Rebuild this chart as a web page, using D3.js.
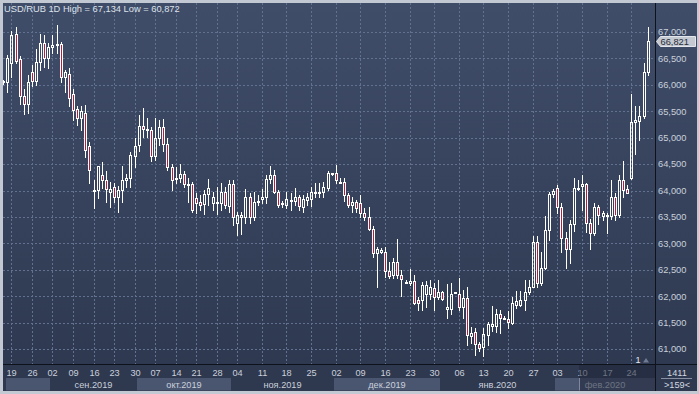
<!DOCTYPE html>
<html>
<head>
<meta charset="utf-8">
<script src="https://cdn.jsdelivr.net/npm/d3@7"></script>
<style>
  html, body { margin: 0; padding: 0; background: #c3c9d3; }
  svg { display: block; font-family: "Liberation Sans", Arial, sans-serif; }
</style>
</head>
<body>
<svg id="chart" width="699" height="394"></svg>
<script>
//	OHLC values, one per bar (159 bars visible)
var open = [65.95,66.05,66.05,66.42,66.96,66.48,65.78,65.63,66.24,66.07,66.44,66.80,66.50,66.71,66.75,66.77,66.15,66.20,65.83,65.55,
  65.38,65.46,64.84,64.01,64.01,64.29,64.20,63.98,64.06,63.87,64.01,64.19,64.23,64.65,64.86,65.22,65.16,65.15,64.65,64.99,
  65.21,64.88,64.45,64.22,64.24,64.32,64.12,64.12,63.85,63.79,63.74,63.93,63.77,63.78,63.76,63.97,63.71,64.12,63.38,63.49,
  63.49,63.87,63.49,63.80,63.83,63.87,64.21,64.29,63.98,63.74,63.73,63.82,63.81,63.87,63.69,63.82,63.83,63.98,63.97,63.97,
  64.04,64.32,64.34,64.17,64.17,63.91,63.73,63.79,63.76,63.58,63.49,63.27,62.82,62.84,62.84,62.48,62.40,62.64,62.41,62.27,
  62.24,62.29,61.93,61.93,62.05,62.05,62.15,61.99,62.07,61.75,61.75,62.07,62.04,61.79,61.96,61.25,61.32,61.09,61.03,61.26,
  61.44,61.44,61.66,61.59,61.57,61.50,61.83,61.83,61.93,62.07,62.18,63.03,62.24,62.53,63.26,63.93,64.04,63.69,63.11,62.89,
  63.37,64.04,64.09,64.12,63.38,63.19,63.68,63.52,63.54,63.52,63.87,63.54,64.19,64.02,64.23,65.30,65.32,65.41,66.25];
var high = [66.10,66.09,66.56,67.01,67.09,66.55,65.93,66.19,66.38,66.67,66.96,66.94,66.79,66.94,67.134,66.82,66.28,66.31,65.93,65.60,
  65.59,65.62,64.92,64.20,64.47,64.53,64.36,64.17,64.14,64.09,64.47,64.32,64.73,64.99,65.43,65.56,65.37,65.21,65.37,65.33,
  65.35,64.99,64.51,64.45,64.50,64.36,64.23,64.17,63.95,63.91,64.01,64.21,63.98,64.06,64.14,64.06,64.19,64.20,63.60,63.60,
  64.02,63.95,63.98,63.91,64.02,64.29,64.46,64.39,64.01,63.81,63.98,63.95,64.04,63.91,63.91,63.95,64.06,64.14,64.14,64.17,
  64.36,64.34,64.48,64.23,64.23,63.95,63.87,63.82,63.91,63.66,63.69,63.32,62.94,62.92,62.94,62.64,62.72,63.08,62.50,62.31,
  62.51,62.40,61.99,62.27,62.29,62.31,62.24,62.31,62.10,62.23,62.24,62.08,62.34,62.12,62.18,61.41,61.39,61.14,61.39,61.52,
  61.81,61.75,61.74,61.62,61.71,61.99,62.09,62.10,62.31,62.31,63.13,63.13,62.84,63.52,63.98,64.02,64.10,63.77,63.22,63.44,
  64.23,64.19,64.29,64.14,63.47,63.77,63.73,63.62,63.58,64.19,63.96,64.29,64.55,64.10,65.83,65.59,65.60,66.42,67.09];
var low = [65.85,66.02,65.87,66.15,66.41,65.64,65.44,65.47,65.97,66.00,66.29,66.34,66.31,66.60,66.60,66.06,65.87,65.59,65.33,65.24,
  65.15,64.64,64.15,63.66,63.85,64.04,63.79,63.69,63.79,63.60,63.79,64.07,64.07,64.45,64.74,65.02,65.02,64.55,64.58,64.86,
  64.74,64.38,64.01,64.14,64.17,64.06,63.79,63.60,63.57,63.63,63.56,63.73,63.63,63.56,63.63,63.66,63.60,63.35,63.16,63.17,
  63.38,63.38,63.45,63.73,63.76,63.76,64.14,63.95,63.69,63.68,63.66,63.63,63.73,63.63,63.60,63.73,63.71,63.88,63.88,63.88,
  64.01,64.29,64.14,64.14,63.81,63.69,63.60,63.60,63.50,63.44,63.25,62.75,62.17,62.81,62.36,62.34,62.34,62.34,62.00,62.26,
  62.21,61.85,61.74,61.74,61.80,61.95,61.74,61.94,61.93,61.58,61.66,62.06,61.73,61.58,61.08,61.11,60.89,60.97,60.872,61.08,
  61.35,61.33,61.30,61.56,61.39,61.47,61.77,61.81,61.74,62.05,62.17,62.18,62.21,62.52,63.06,63.87,63.58,62.84,62.53,62.62,
  63.24,64.01,63.63,63.22,62.89,63.16,63.37,63.45,63.19,63.47,63.44,63.50,63.88,63.95,64.21,64.70,64.96,65.38,66.19];
var close = [66.05,66.07,66.50,66.94,66.46,65.78,65.63,66.05,66.07,66.44,66.80,66.50,66.71,66.75,66.77,66.15,66.24,65.76,65.52,65.38,
  65.51,64.77,64.38,64.00,64.46,64.20,64.02,64.02,63.87,64.01,64.20,64.23,64.67,64.84,65.22,65.16,65.15,64.65,64.99,65.21,
  64.88,64.45,64.20,64.23,64.32,64.12,64.12,63.64,63.77,63.73,63.93,64.04,63.87,63.78,63.97,63.73,64.12,63.49,63.54,63.54,
  63.88,63.50,63.79,63.80,63.87,64.21,64.29,63.98,63.73,63.77,63.83,63.82,63.87,63.71,63.83,63.87,63.98,63.98,63.97,64.06,
  64.34,64.33,64.19,64.17,63.91,63.73,63.79,63.66,63.58,63.49,63.27,62.82,62.89,62.88,62.48,62.38,62.64,62.40,62.32,62.27,
  62.29,61.88,61.88,62.21,62.21,62.17,61.99,62.08,61.94,61.79,62.05,62.07,61.79,61.96,61.26,61.30,61.09,61.01,61.28,61.47,
  61.47,61.66,61.58,61.59,61.52,61.88,61.90,61.93,62.07,62.18,63.03,62.24,62.53,63.26,63.93,64.00,63.69,63.11,62.89,63.37,
  64.04,64.04,64.12,63.38,63.20,63.68,63.54,63.57,63.54,63.87,63.54,64.19,64.01,63.96,65.30,65.33,65.41,66.25,66.821];

//	week ticks (bar index + day label)
var weekIdx = [3,8,13,18,23,28,33,38,43,48,53,58,64,70,76,82,88,94,100,106,112,118,124,130,136,142,148,154];
var weekLabels = ["19","26","02","09","16","23","30","07","14","21","28","04","11","18","25","02","09","16","23","30","06","13","20","27","03","10","17","24"];
//	months (first bar index + label)
var monthIdx = [0,13,34,57,82,108,136];
var monthLabels = ["","сен.2019","окт.2019","ноя.2019","дек.2019","янв.2020","фев.2020"];
//	price ticks
var priceTicks = [61,61.5,62,62.5,63,63.5,64,64.5,65,65.5,66,66.5,67];

var title = "USD/RUB 1D High = 67,134 Low = 60,872";
var lastPrice = 66.821, barsShown = 159, barsTotal = 1411;

var svg = d3.select("#chart"),
    width = +svg.attr("width"),
    height = +svg.attr("height");

var plotL = 3, plotR = 655, plotT = 3, plotB = 364, axisB = 391;

var n = close.length;
var x = d3.scaleLinear().domain([0, n - 1]).range([-0.9, 647.7]);
var y = d3.scaleLinear().domain([61, 67]).range([349, 32]);
//	russian style decimals: 67,000
var fmtTick = function (v) { return d3.format(".3f")(v).replace(".", ","); };

var defs = svg.append("defs");
var grad = defs.append("linearGradient").attr("id", "bg").attr("x1", 0).attr("y1", 0).attr("x2", 0).attr("y2", 1);
grad.append("stop").attr("offset", "0%").attr("stop-color", "#404d69");
grad.append("stop").attr("offset", "100%").attr("stop-color", "#2d384f");
defs.append("clipPath").attr("id", "plotclip").append("rect")
    .attr("x", plotL).attr("y", plotT).attr("width", plotR - plotL).attr("height", plotB - plotT);

//	frame + panel
svg.append("rect").attr("width", width).attr("height", height).attr("fill", "#c3c9d3");
svg.append("rect").attr("x", plotL).attr("y", plotT).attr("width", width - 5).attr("height", axisB - plotT)
    .attr("fill", "url(#bg)");
svg.append("rect").attr("x", plotL).attr("y", plotB).attr("width", width - 5).attr("height", axisB - plotB)
    .attr("fill", "#2e384e");

//	grid
var grid = svg.append("g").attr("stroke", "#627190").attr("stroke-dasharray", "2,2")
    .attr("shape-rendering", "crispEdges").attr("clip-path", "url(#plotclip)");
grid.selectAll(".hg").data(priceTicks).enter().append("line")
    .attr("x1", plotL).attr("x2", plotR)
    .attr("y1", function (d) { return Math.round(y(d)) + 0.5; })
    .attr("y2", function (d) { return Math.round(y(d)) + 0.5; });
grid.selectAll(".vg").data(weekIdx).enter().append("line")
    .attr("y1", plotT).attr("y2", plotB)
    .attr("x1", function (d) { return Math.round(x(d)) + 0.5; })
    .attr("x2", function (d) { return Math.round(x(d)) + 0.5; });

//	candles
var bars = d3.range(n).map(function (i) {
    return {i: i, o: open[i], h: high[i], l: low[i], c: close[i]};
});
var cg = svg.append("g").attr("clip-path", "url(#plotclip)").attr("shape-rendering", "crispEdges");
var candle = cg.selectAll(".candle").data(bars).enter().append("g").attr("class", "candle");
candle.each(function (d) {
    var g = d3.select(this);
    var p = Math.round(x(d.i));
    var top = Math.round(y(Math.max(d.o, d.c))) + 0.5;
    var bot = Math.round(y(Math.min(d.o, d.c))) + 0.5;
    if (bot - top < 1) bot = top + 1;
    var hi = Math.round(y(d.h)), lo = Math.round(y(d.l)) + 1;
    g.append("line").attr("x1", p + 0.5).attr("x2", p + 0.5).attr("y1", hi).attr("y2", top)
        .attr("stroke", "#ffffff");
    g.append("line").attr("x1", p + 0.5).attr("x2", p + 0.5).attr("y1", bot).attr("y2", lo)
        .attr("stroke", "#ffffff");
    g.append("rect").attr("x", p - 0.5).attr("width", 2)
        .attr("y", top).attr("height", bot - top)
        .attr("fill", d.c < d.o ? "#b3203f" : "none")
        .attr("stroke", "#ffffff");
});

//	separators
svg.append("line").attr("x1", plotL).attr("x2", width - 2).attr("y1", plotB + 0.5).attr("y2", plotB + 0.5)
    .attr("stroke", "#0e121a");
svg.append("line").attr("x1", plotR + 0.5).attr("x2", plotR + 0.5).attr("y1", plotT).attr("y2", axisB)
    .attr("stroke", "#0e121a");

//	title
svg.append("text").attr("x", 4).attr("y", 11.5).attr("fill", "#dde2ea").attr("font-size", "9.3px").text(title);

//	price axis labels
svg.append("g").selectAll("text").data(priceTicks).enter().append("text")
    .attr("x", 658).attr("y", function (d) { return y(d) + 3.4; })
    .attr("fill", "#c9d0dc").attr("font-size", "9.3px")
    .text(function (d) { return fmtTick(d); });

//	last price marker
var ly = Math.round(y(lastPrice)) + 0.5;
svg.append("path")
    .attr("d", "M656.5," + ly + "L660.5," + (ly - 5) + "L695.5," + (ly - 5) + "L695.5," + (ly + 5) + "L660.5," + (ly + 5) + "Z")
    .attr("fill", "#c4c9d2").attr("stroke", "#e4e7ec");
svg.append("text").attr("x", 660.5).attr("y", ly + 3.5).attr("fill", "#262c38").attr("font-size", "9.3px")
    .text(fmtTick(lastPrice));

//	month bands
var months = monthIdx.map(function (m, k) {
    var x0 = Math.max(6, Math.round(x(m - 0.5)));
    var x1 = k < monthIdx.length - 1 ? Math.round(x(monthIdx[k + 1] - 0.5)) : plotR;
    return {x0: x0, x1: x1, label: monthLabels[k], k: k};
});
var mg = svg.append("g");
mg.selectAll("rect").data(months).enter().append("rect")
    .attr("x", function (d) { return d.x0; }).attr("width", function (d) { return d.x1 - d.x0; })
    .attr("y", 378).attr("height", 12.5)
    .attr("fill", function (d) { return d.k % 2 === 0 ? "#4a5670" : "#2e384e"; });
mg.selectAll("text").data(months).enter().append("text")
    .attr("x", function (d) { return (d.x0 + d.x1) / 2; }).attr("y", 387.5)
    .attr("text-anchor", "middle").attr("fill", "#c9d0dc").attr("font-size", "9.2px")
    .text(function (d) { return d.label; });

//	week labels
svg.append("g").selectAll("text").data(weekIdx).enter().append("text")
    .attr("x", function (d) { return Math.round(x(d)) + 0.5; }).attr("y", 376)
    .attr("text-anchor", "middle").attr("fill", "#c9d0dc").attr("font-size", "9.2px")
    .text(function (d, k) { return weekLabels[k]; });

//	scroll overlay at the right end of the time axis
svg.append("rect").attr("x", 579).attr("y", plotB + 1).attr("width", plotR - 579).attr("height", axisB - plotB - 1)
    .attr("fill", "#1f2738").attr("fill-opacity", 0.55);
svg.append("line").attr("x1", 579.5).attr("x2", 579.5).attr("y1", 378).attr("y2", 390.5)
    .attr("stroke", "#7d889c");

//	small marker at the bottom right of the plot
svg.append("text").attr("x", 635.5).attr("y", 362.5).attr("fill", "#e6e9ee").attr("font-size", "9px").text("1");
svg.append("path").attr("d", "M643,362.5L646,358L649,362.5Z").attr("fill", "#6f7b92");

//	bar counters
svg.append("text").attr("x", 677).attr("y", 375.5).attr("text-anchor", "middle")
    .attr("fill", "#d3d8e0").attr("font-size", "9.2px").text(barsTotal);
svg.append("line").attr("x1", 661).attr("x2", 692).attr("y1", 378.5).attr("y2", 378.5).attr("stroke", "#8690a2");
svg.append("text").attr("x", 677).attr("y", 388).attr("text-anchor", "middle")
    .attr("fill", "#d3d8e0").attr("font-size", "9.2px").text(">" + barsShown + "<");
</script>
</body>
</html>
